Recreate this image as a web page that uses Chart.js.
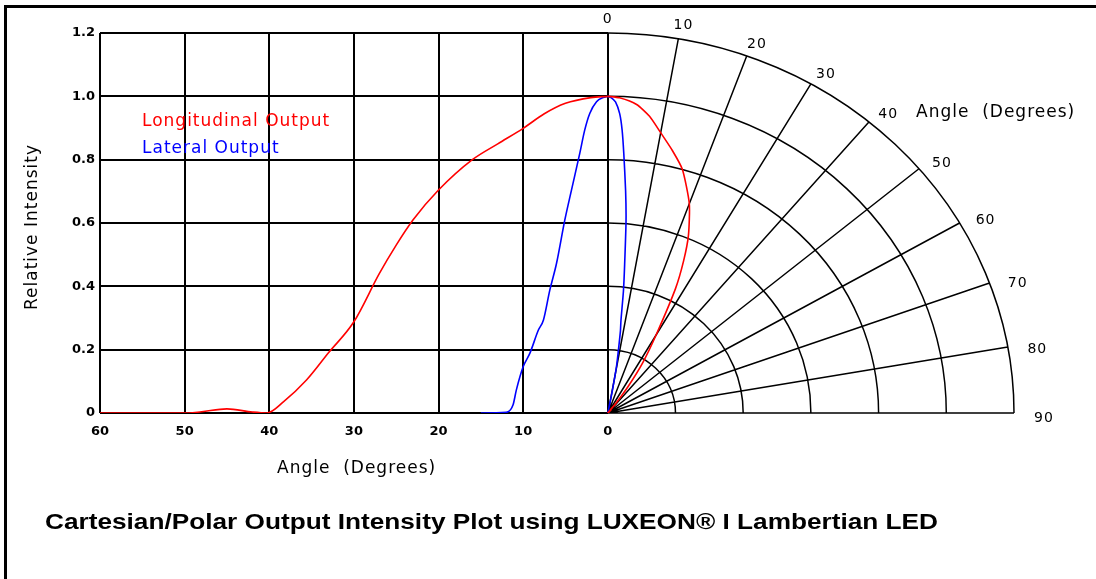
<!DOCTYPE html>
<html>
<head>
<meta charset="utf-8">
<title>Cartesian/Polar Output Intensity Plot</title>
<script src="https://cdn.jsdelivr.net/npm/chart.js@4.4.1/dist/chart.umd.min.js"></script>
<style>
  body { margin: 0; background: #fff; }
  canvas { display: block; }
</style>
</head>
<body>
<canvas id="chart" width="1096" height="579"></canvas>
<script>
// angle off axis (degrees) and relative intensity
const longAngles = [0, 2, 5, 7.5, 10, 13, 16, 20, 23, 25, 27, 30, 33, 35.6, 38.3, 40.3, 42, 45, 48, 49.5, 60];
const longValues = [1.0, 0.996, 0.978, 0.945, 0.899, 0.85, 0.8, 0.704, 0.61, 0.53, 0.44, 0.288, 0.19, 0.104, 0.036, 0.0, 0.003, 0.013, 0.004, 0, 0];

const latAngles = [0, 0.55, 1.33, 2.13, 2.72, 3.31, 4.29, 5.08, 6.06, 6.85, 7.6, 8.2, 9.2, 10.0, 10.8, 11.2, 12, 15];
const latValues = [1.0, 0.996, 0.983, 0.946, 0.894, 0.82, 0.704, 0.609, 0.472, 0.388, 0.294, 0.262, 0.189, 0.146, 0.073, 0.025, 0.002, 0];

const angleTicks = [60, 50, 40, 30, 20, 10, 0];
const intensityTicks = [0, 0.2, 0.4, 0.6, 0.8, 1.0, 1.2];
const polarAngles = [0, 10, 20, 30, 40, 50, 60, 70, 80, 90];
const polarRings = [0.2, 0.4, 0.6, 0.8, 1.0, 1.2];

const title = "Cartesian/Polar Output Intensity Plot using LUXEON\u00AE I Lambertian LED";

// x-axis units per unit of intensity on the polar half (right of 0)
const POLAR_X = 40;
const RED = "#ff0000";
const BLUE = "#0000ff";
const LABEL_FONT = '17px "DejaVu Sans", sans-serif';

function cartesianPoints(angles, values) {
    return angles.map((a, i) => ({ x: a, y: values[i] }));
}

function polarPoints(angles, values) {
    return angles.map((a, i) => {
        const t = a * Math.PI / 180;
        return { x: -POLAR_X * values[i] * Math.sin(t), y: values[i] * Math.cos(t) };
    });
}

const gridPlugin = {
    id: "grid",
    beforeDatasetsDraw(chart) {
        const { ctx, scales: { x, y } } = chart;
        const x0 = Math.round(x.getPixelForValue(0));
        const y0 = Math.round(y.getPixelForValue(0));
        const left = Math.round(x.getPixelForValue(60));
        const top = Math.round(y.getPixelForValue(1.2));

        ctx.save();
        ctx.strokeStyle = "#000";
        ctx.lineWidth = 2;
        ctx.beginPath();
        angleTicks.forEach(a => {
            const px = Math.round(x.getPixelForValue(a));
            ctx.moveTo(px, y0);
            ctx.lineTo(px, top);
        });
        intensityTicks.forEach(v => {
            const py = Math.round(y.getPixelForValue(v));
            ctx.moveTo(left, py);
            ctx.lineTo(x0, py);
        });
        ctx.stroke();

        // polar half
        ctx.lineWidth = 1.5;
        ctx.beginPath();
        ctx.moveTo(x0, y0);
        ctx.lineTo(x.getPixelForValue(-POLAR_X * 1.2), y0);
        polarRings.forEach(r => {
            const rx = x.getPixelForValue(-POLAR_X * r) - x0;
            const ry = y0 - y.getPixelForValue(r);
            ctx.moveTo(x0, y0 - ry);
            ctx.ellipse(x0, y0, rx, ry, 0, -Math.PI / 2, 0);
        });
        polarAngles.forEach(a => {
            if (a === 0 || a === 90) return;
            const t = a * Math.PI / 180;
            ctx.moveTo(x0, y0);
            ctx.lineTo(x.getPixelForValue(-POLAR_X * 1.2 * Math.sin(t)), y.getPixelForValue(1.2 * Math.cos(t)));
        });
        ctx.stroke();

        // angle labels round the outer ring
        ctx.fillStyle = "#000";
        ctx.font = '14px "DejaVu Sans", sans-serif';
        ctx.letterSpacing = "1px";
        ctx.textAlign = "center";
        ctx.textBaseline = "middle";
        polarAngles.forEach(a => {
            const t = a * Math.PI / 180;
            const px = x.getPixelForValue(-POLAR_X * 1.2 * Math.sin(t)) + 30 * Math.sin(t);
            const py = y.getPixelForValue(1.2 * Math.cos(t)) - 14 * Math.cos(t) + 5 * Math.sin(t);
            ctx.fillText(String(a), px, py);
        });
        ctx.restore();
    },
    afterDraw(chart) {
        const { ctx } = chart;
        ctx.save();

        // frame, top and left only
        ctx.strokeStyle = "#000";
        ctx.lineWidth = 3;
        ctx.beginPath();
        ctx.moveTo(1096, 6.5);
        ctx.lineTo(5.5, 6.5);
        ctx.lineTo(5.5, 579);
        ctx.stroke();

        ctx.font = LABEL_FONT;
        ctx.letterSpacing = "1px";
        ctx.textAlign = "left";
        ctx.textBaseline = "alphabetic";
        ctx.fillStyle = RED;
        ctx.fillText("Longitudinal Output", 142, 126);
        ctx.fillStyle = BLUE;
        ctx.fillText("Lateral Output", 142, 153);

        ctx.fillStyle = "#000";
        ctx.fillText("Angle  (Degrees)", 277, 473);
        ctx.fillText("Angle  (Degrees)", 916, 117);

        ctx.save();
        ctx.translate(37, 227);
        ctx.rotate(-Math.PI / 2);
        ctx.textAlign = "center";
        ctx.fillText("Relative Intensity", 0, 0);
        ctx.restore();

        // caption, stretched to the width it has in the picture
        ctx.letterSpacing = "0px";
        ctx.font = 'bold 22px "Liberation Sans", Arial, sans-serif';
        const w = ctx.measureText(title).width;
        ctx.translate(45, 529);
        ctx.scale(893 / w, 1);
        ctx.fillText(title, 0, 0);
        ctx.restore();
    }
};

const tickFont = { family: "DejaVu Sans", size: 13, weight: "bold" };

new Chart(document.getElementById("chart"), {
    type: "scatter",
    data: {
        datasets: [
            {
                label: "Longitudinal Output",
                data: cartesianPoints(longAngles, longValues),
                borderColor: RED,
                cubicInterpolationMode: "monotone"
            },
            {
                label: "Lateral Output",
                data: cartesianPoints(latAngles, latValues),
                borderColor: BLUE,
                cubicInterpolationMode: "monotone"
            },
            {
                label: "Longitudinal Output (polar)",
                data: polarPoints(longAngles, longValues),
                borderColor: RED,
                tension: 0.2
            },
            {
                label: "Lateral Output (polar)",
                data: polarPoints(latAngles, latValues),
                borderColor: BLUE,
                tension: 0.2
            }
        ]
    },
    options: {
        responsive: false,
        animation: false,
        devicePixelRatio: 1,
        layout: { padding: { left: 0, right: 82, top: 33, bottom: 0 } },
        datasets: {
            scatter: { showLine: true, pointRadius: 0, borderWidth: 1.6, fill: false }
        },
        plugins: {
            legend: { display: false },
            tooltip: { enabled: false }
        },
        scales: {
            x: {
                type: "linear",
                reverse: true,
                min: -POLAR_X * 1.2,
                max: 60,
                afterBuildTicks: s => { s.ticks = angleTicks.map(v => ({ value: v })); },
                afterFit: s => { s.height = 166; },
                grid: { display: false, drawTicks: false },
                border: { display: false },
                ticks: { padding: 11, color: "#000", font: tickFont, maxRotation: 0, autoSkip: false }
            },
            y: {
                min: 0,
                max: 1.2,
                afterBuildTicks: s => { s.ticks = intensityTicks.map(v => ({ value: v })); },
                afterFit: s => { s.width = 100; },
                grid: { display: false, drawTicks: false },
                border: { display: false },
                ticks: {
                    padding: 5,
                    color: "#000",
                    font: tickFont,
                    callback: v => v === 0 ? "0" : v.toFixed(1)
                }
            }
        }
    },
    plugins: [gridPlugin]
});
</script>
</body>
</html>
